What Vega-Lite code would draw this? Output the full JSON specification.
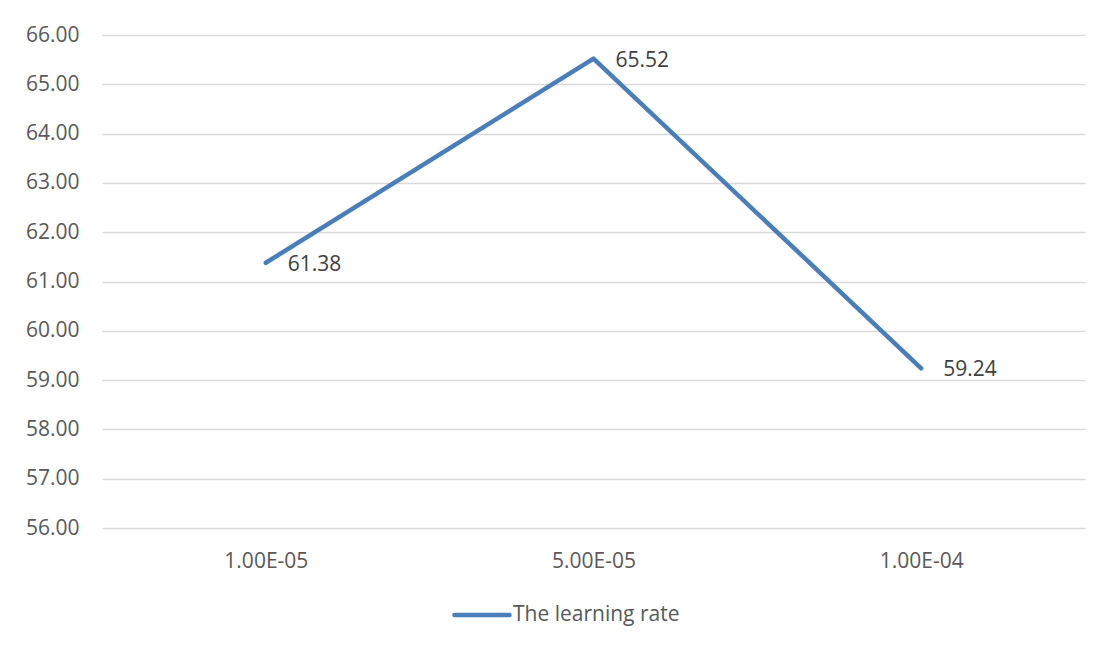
{
  "$schema": "https://vega.github.io/schema/vega-lite/v6.json",
  "width": 983,
  "height": 493,
  "autosize": {"type": "none"},
  "padding": {"left": 102, "top": 35, "right": 19, "bottom": 119},
  "background": "white",
  "data": {
    "values": [
      {"lr": "1.00E-05", "acc": 61.38, "series": "The learning rate"},
      {"lr": "5.00E-05", "acc": 65.52, "series": "The learning rate"},
      {"lr": "1.00E-04", "acc": 59.24, "series": "The learning rate"}
    ]
  },
  "encoding": {
    "x": {
      "field": "lr",
      "type": "nominal",
      "sort": null,
      "scale": {"type": "point", "padding": 0.5},
      "axis": {"title": null, "labelAngle": 0, "domain": false, "ticks": false, "tickSize": 0, "labelPadding": 22, "grid": false}
    },
    "y": {
      "field": "acc",
      "type": "quantitative",
      "scale": {"domain": [56, 66], "nice": false, "zero": false},
      "axis": {
        "title": null,
        "values": [56, 57, 58, 59, 60, 61, 62, 63, 64, 65, 66],
        "format": ".2f",
        "domain": false,
        "ticks": false,
        "tickSize": 0,
        "labelPadding": 23,
        "grid": true,
        "gridColor": "#d9d9d9",
        "gridWidth": 1.3
      }
    }
  },
  "layer": [
    {
      "mark": {"type": "line", "strokeWidth": 4.5, "strokeCap": "round", "strokeJoin": "round"},
      "encoding": {
        "color": {
          "field": "series",
          "type": "nominal",
          "scale": {"range": ["#4a7ebb"]},
          "legend": {
            "title": null,
            "orient": "none",
            "legendX": 350,
            "legendY": 550,
            "symbolType": "stroke",
            "symbolSize": 3025,
            "symbolStrokeWidth": 4.5,
            "labelOffset": 1,
            "labelLimit": 400,
            "padding": 0,
            "encode": {"symbols": {"update": {"strokeCap": {"value": "round"}}}}
          }
        }
      }
    },
    {
      "mark": {"type": "text", "align": "left", "baseline": "middle", "dx": 22, "dy": 2, "fontSize": 21, "font": "Open Sans", "color": "#404040"},
      "encoding": {"text": {"field": "acc", "type": "quantitative", "format": ".2f"}}
    }
  ],
  "config": {
    "view": {"stroke": null},
    "axis": {"labelFont": "Open Sans", "labelFontSize": 21, "labelColor": "#595959"},
    "legend": {"labelFont": "Open Sans", "labelFontSize": 21, "labelColor": "#595959"}
  }
}
